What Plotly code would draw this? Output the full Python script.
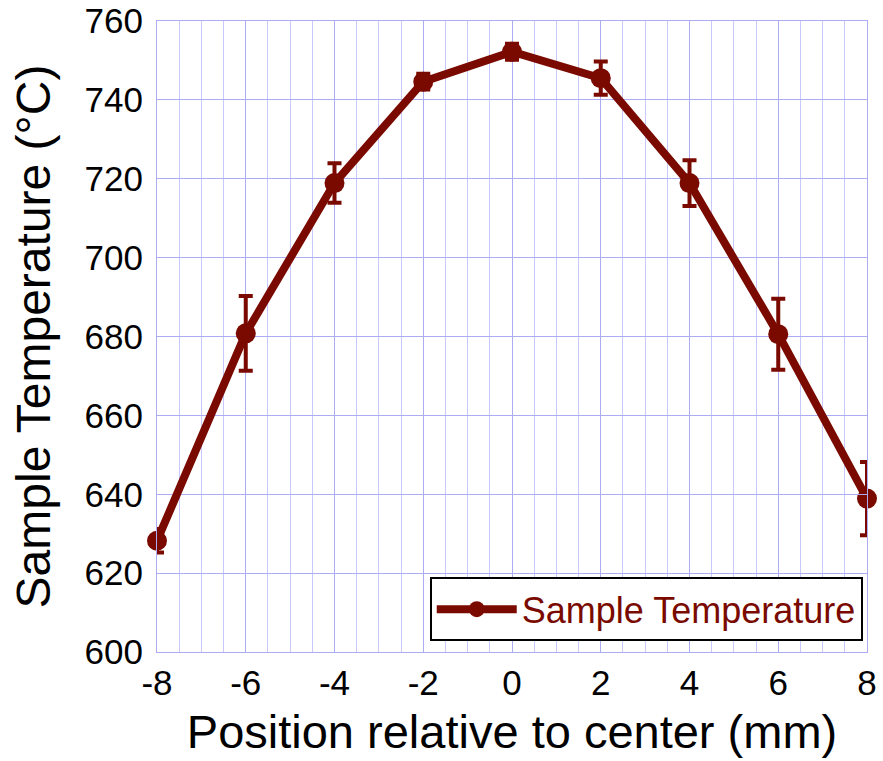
import plotly.graph_objects as go

positions = [-8, -6, -4, -2, 0, 2, 4, 6, 8]
temperatures = [628.2, 680.8, 718.9, 744.6, 752.2, 745.5, 718.9, 680.6, 638.9]
errors = [3.0, 9.5, 5.0, 2.0, 2.0, 4.2, 5.8, 9.0, 9.3]
x_ticks = [-8, -6, -4, -2, 0, 2, 4, 6, 8]
y_ticks = [600, 620, 640, 660, 680, 700, 720, 740, 760]

RED = "rgb(122,10,0)"
FONT = "Liberation Sans, Arial, sans-serif"
GRID_MAJOR = "rgb(172,172,245)"
GRID_MINOR = "rgb(200,200,250)"

fig = go.Figure()
fig.add_trace(go.Scatter(
    x=positions, y=temperatures, mode="lines+markers",
    name="Sample Temperature",
    line=dict(color=RED, width=8),
    marker=dict(color=RED, size=20, symbol="circle"),
    error_y=dict(type="data", array=errors, visible=True, color=RED, thickness=4, width=7),
    cliponaxis=False,
))

fig.update_layout(
    width=883, height=761,
    margin=dict(l=157, r=16, t=21, b=109, autoexpand=False),
    paper_bgcolor="white", plot_bgcolor="white",
    font=dict(family=FONT, color="black"),
    showlegend=True,
    legend=dict(
        x=0.994, y=0.017, xanchor="right", yanchor="bottom",
        bgcolor="white", bordercolor="black", borderwidth=2,
        font=dict(size=36, color=RED, family=FONT),
        itemwidth=80,
    ),
    xaxis=dict(
        range=[-8, 8], tickvals=x_ticks, ticktext=[str(v) for v in x_ticks],
        tickfont=dict(size=35), ticks="", automargin=False,
        showgrid=True, gridcolor=GRID_MAJOR, gridwidth=1,
        minor=dict(dtick=0.5, tick0=0, showgrid=True, gridcolor=GRID_MINOR, gridwidth=1),
        showline=True, linecolor=GRID_MAJOR, linewidth=1, mirror=True,
        zeroline=False,
        title=dict(text="Position relative to center (mm)", font=dict(size=47), standoff=14),
    ),
    yaxis=dict(
        range=[600, 760], tickvals=y_ticks, ticktext=[str(v) for v in y_ticks],
        tickfont=dict(size=35), ticks="inside", ticklen=12, tickcolor=GRID_MAJOR,
        ticklabelstandoff=6, automargin=False,
        showgrid=True, gridcolor=GRID_MAJOR, gridwidth=1,
        showline=True, linecolor=GRID_MAJOR, linewidth=1, mirror="ticks",
        zeroline=False,
        title=dict(text="Sample Temperature (°C)", font=dict(size=48), standoff=18),
    ),
)

fig.write_html("out.html")
